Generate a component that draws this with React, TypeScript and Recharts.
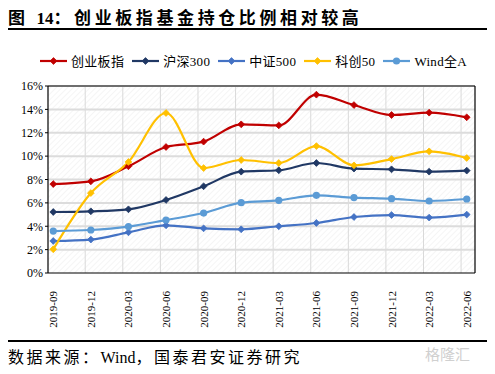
import React from "react";
import { CartesianGrid, Line, LineChart, ReferenceLine, XAxis, YAxis } from "recharts";

const quarters = [
  "2019-09", "2019-12", "2020-03", "2020-06", "2020-09", "2020-12",
  "2021-03", "2021-06", "2021-09", "2021-12", "2022-03", "2022-06",
];
const chinext = [7.61, 7.84, 9.13, 10.78, 11.24, 12.72, 12.63, 15.26, 14.37, 13.52, 13.72, 13.32];
const hs300 = [5.22, 5.28, 5.45, 6.25, 7.42, 8.67, 8.79, 9.41, 8.93, 8.87, 8.67, 8.76];
const zz500 = [2.74, 2.86, 3.48, 4.08, 3.82, 3.74, 4.0, 4.28, 4.79, 4.96, 4.74, 5.0];
const star50 = [2.03, 6.84, 9.5, 13.69, 8.98, 9.67, 9.41, 10.86, 9.21, 9.75, 10.41, 9.84];
const windA = [3.59, 3.68, 3.97, 4.53, 5.13, 6.02, 6.22, 6.65, 6.45, 6.36, 6.16, 6.33];
const yTicks = [0, 2, 4, 6, 8, 10, 12, 14, 16];

const series = [
  { key: "chinext", name: "创业板指", color: "#C00000", dot: "diamond" },
  { key: "hs300", name: "沪深300", color: "#203864", dot: "diamond" },
  { key: "zz500", name: "中证500", color: "#4472C4", dot: "diamond" },
  { key: "star50", name: "科创50", color: "#FFC000", dot: "diamond" },
  { key: "windA", name: "Wind全A", color: "#5B9BD5", dot: "circle" },
];

const data = quarters.map((q, i) => ({
  i,
  q,
  chinext: chinext[i],
  hs300: hs300[i],
  zz500: zz500[i],
  star50: star50[i],
  windA: windA[i],
}));

const gridVals = quarters.slice(1).map((_, i) => i + 0.85);
const serif = '"Liberation Serif", "Times New Roman", "Noto Sans CJK SC", serif';

function Marker({ cx, cy, color, shape }: { cx?: number; cy?: number; color: string; shape: string }) {
  if (cx == null || cy == null) return null;
  if (shape === "circle") return <circle cx={cx} cy={cy} r={3.6} fill={color} stroke="none" />;
  const s = 3.4;
  return (
    <path
      d={`M${cx},${cy - s}L${cx + s},${cy}L${cx},${cy + s}L${cx - s},${cy}Z`}
      fill={color}
      stroke={color}
      strokeWidth={0.8}
    />
  );
}

function XTick({ x, y, payload }: any) {
  return (
    <text
      x={0}
      y={0}
      transform={`translate(${x + 4},${y + 10}) rotate(-90)`}
      textAnchor="end"
      fontSize={11}
      fontFamily={serif}
      fill="#000"
    >
      {quarters[payload.value]}
    </text>
  );
}

function LegendRow() {
  return (
    <div
      style={{
        position: "absolute",
        top: 51,
        left: 40,
        display: "flex",
        alignItems: "center",
        fontFamily: serif,
        fontSize: 13,
        color: "#000",
      }}
    >
      {series.map((s) => (
        <div key={s.key} style={{ display: "flex", alignItems: "center", marginRight: 8 }}>
          <svg width={27} height={10} style={{ marginRight: 4 }}>
            <line x1={0} y1={5} x2={27} y2={5} stroke={s.color} strokeWidth={2.2} />
            <Marker cx={13.5} cy={5} color={s.color} shape={s.dot} />
          </svg>
          <span style={{ letterSpacing: 0.3 }}>{s.name}</span>
        </div>
      ))}
    </div>
  );
}

export default function App() {
  return (
    <div style={{ position: "relative", width: 495, height: 374, margin: -8, background: "#fff", overflow: "hidden" }}>
      <div
        style={{
          position: "absolute",
          top: 4,
          left: 8,
          fontFamily: '"Liberation Serif", "Noto Sans CJK SC", serif',
          fontWeight: 700,
          fontSize: 17,
          letterSpacing: 3.6,
          color: "#000",
          whiteSpace: "nowrap",
        }}
      >
        图 <span style={{ letterSpacing: 0 }}>14</span>：创业板指基金持仓比例相对较高
      </div>
      <div style={{ position: "absolute", top: 28, left: 0, width: 495, height: 1.5, background: "#000" }} />
      <LegendRow />
      <div style={{ position: "absolute", top: 30, left: 0 }}>
        <LineChart width={495} height={310} data={data} margin={{ top: 56, right: 20, bottom: 2, left: 8 }}>
          <defs>
            <pattern id="hatch" patternUnits="userSpaceOnUse" width={4} height={4} patternTransform="rotate(45)">
              <line x1={0} y1={0} x2={0} y2={4} stroke="#efefef" strokeWidth={1.2} />
            </pattern>
          </defs>
          <CartesianGrid
            fill="url(#hatch)"
            stroke="#d9d9d9"
            horizontal={false}
            verticalValues={gridVals}
            strokeWidth={1}
          />
          <CartesianGrid vertical={false} stroke="#dcdcdc" strokeWidth={2} horizontalValues={yTicks.slice(1)} />
          <XAxis
            type="number"
            dataKey="i"
            domain={[-0.14, 11.22]}
            ticks={quarters.map((_, i) => i)}
            allowDataOverflow
            interval={0}
            height={65}
            tick={<XTick />}
            tickLine={false}
            axisLine={{ stroke: "#000", strokeWidth: 1.2 }}
          />
          <YAxis
            domain={[0, 16]}
            ticks={yTicks}
            interval={0}
            width={40}
            tickFormatter={(v: number) => `${v}%`}
            tick={{ fontSize: 12, fontFamily: serif, fill: "#000" }}
            tickLine={{ stroke: "#000" }}
            tickSize={3}
            axisLine={{ stroke: "#000", strokeWidth: 1.2 }}
          />
          <ReferenceLine y={16} stroke="#000" strokeWidth={1.2} />
          <ReferenceLine x={11.22} stroke="#000" strokeWidth={1.2} />
          {series.map((s) => (
            <Line
              key={s.key}
              dataKey={s.key}
              name={s.name}
              type="monotone"
              stroke={s.color}
              strokeWidth={2.2}
              isAnimationActive={false}
              dot={(p: any) => <Marker key={`${s.key}-${p.index}`} cx={p.cx} cy={p.cy} color={s.color} shape={s.dot} />}
              activeDot={false}
            />
          ))}
        </LineChart>
      </div>
      <div style={{ position: "absolute", top: 340, left: 0, width: 495, height: 1.5, background: "#000" }} />
      <div
        style={{
          position: "absolute",
          top: 344,
          left: 8,
          fontFamily: '"Liberation Serif", "Noto Sans CJK SC", serif',
          fontSize: 16,
          letterSpacing: 2.5,
          color: "#000",
          whiteSpace: "nowrap",
        }}
      >
        数据来源：<span style={{ letterSpacing: 0 }}>Wind</span>，国泰君安证券研究
      </div>
      <div
        style={{
          position: "absolute",
          top: 343,
          left: 425,
          fontFamily: '"Noto Sans CJK SC", sans-serif',
          fontSize: 15,
          color: "#d0d0d0",
          whiteSpace: "nowrap",
        }}
      >
        格隆汇
      </div>
    </div>
  );
}
